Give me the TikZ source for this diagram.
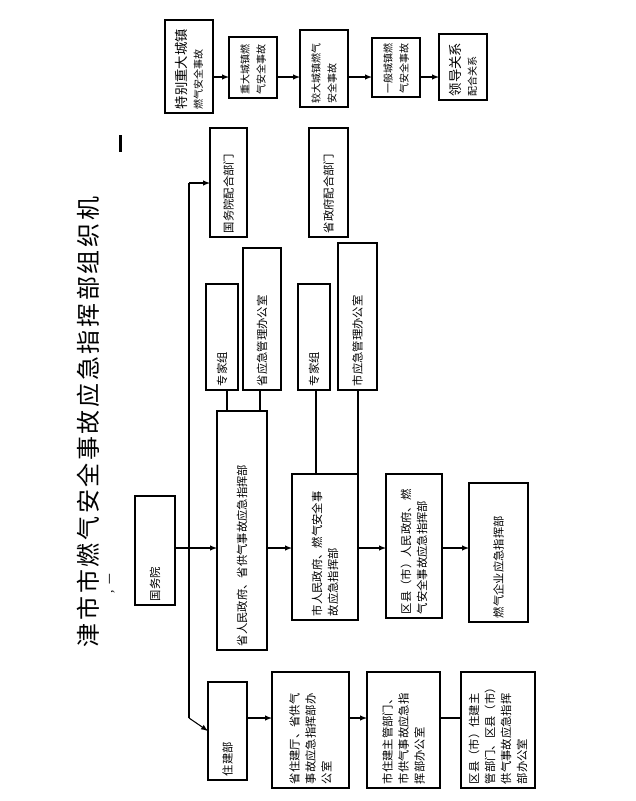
\documentclass[tikz,border=0pt]{standalone}
\usepackage{fontspec}
\setmainfont{Noto Sans CJK SC}
\begin{document}
\begin{tikzpicture}[x=0.75pt,y=-0.75pt,
  bx/.style={draw,line width=0.8pt},
  lab/.style={rotate=90,font=\fontsize{8.5}{12}\selectfont,align=left,inner sep=0pt},
  arr/.style={-latex,line width=0.8pt},
  ln/.style={line width=0.8pt}]
\useasboundingbox (0,0) rectangle (636,801);
\newcommand\rbox[6]{%
  \draw[bx] (#2,#3) rectangle (#4,#5);
  \node[lab,text width={(#5-#3-8)*0.75pt}] (#1) at ({(#2+#4)/2},{(#3+#5)/2}) {#6};
  \coordinate (#1-w) at (#2,{(#3+#5)/2});
  \coordinate (#1-e) at (#4,{(#3+#5)/2});
}
\rbox{a}{165}{20}{213}{113}{{\fontsize{10}{13}\selectfont 特别重大城镇}\\{\fontsize{7.5}{11}\selectfont 燃气安全事故}}
\rbox{b}{229}{37}{277}{98}{\fontsize{7.5}{11}\selectfont 重大城镇燃\\气安全事故}
\rbox{c}{300}{30}{348}{107}{\fontsize{7.5}{11}\selectfont 较大城镇燃气\\安全事故}
\rbox{d}{372}{38}{420}{97}{\fontsize{7.5}{11}\selectfont 一般城镇燃\\气安全事故}
\rbox{e}{439}{34}{487}{100}{{\fontsize{10}{13}\selectfont 领导关系}\\{\fontsize{7.5}{11}\selectfont 配合关系}}
\draw[arr] (213,77) -- (229,77);
\draw[arr] (277,77) -- (300,77);
\draw[arr] (348,77) -- (372,77);
\draw[arr] (420,77) -- (439,77);
\node[rotate=90,font=\fontsize{18}{20}\selectfont\addfontfeature{LetterSpace=11},inner sep=0pt] (title) at (88,422) {津市市燃气安全事故应急指挥部组织机};
\node[rotate=90,font=\fontsize{8}{10}\selectfont,inner sep=0pt] (sub) at (112,584) {，一};
\fill (119,135) rectangle (122,152);
\rbox{gwy}{135}{496}{175}{605}{国务院}
\rbox{gwpb}{210}{128}{247}{237}{国务院配合部门}
\rbox{zj1}{206}{284}{238}{390}{专家组}
\rbox{syj}{243}{248}{281}{390}{省应急管理办公室}
\rbox{sheng}{217}{411}{267}{650}{省人民政府、省供气事故应急指挥部}
\rbox{szpb}{309}{128}{348}{237}{省政府配合部门}
\rbox{zj2}{298}{284}{330}{390}{专家组}
\rbox{shyj}{338}{243}{377}{390}{市应急管理办公室}
\rbox{shi}{292}{474}{358}{620}{市人民政府、燃气安全事\\故应急指挥部}
\rbox{qx}{386}{474}{442}{618}{区县（市）人民政府、燃\\气安全事故应急指挥部}
\rbox{qy}{469}{483}{528}{622}{燃气企业应急指挥部}
\rbox{zjb}{208}{682}{247}{780}{住建部}
\rbox{szjt}{272}{672}{349}{788}{省住建厅、省供气\\事故应急指挥部办\\公室}
\rbox{shzj}{367}{672}{440}{788}{市住建主管部门、\\市供气事故应急指\\挥部办公室}
\rbox{qxzj}{461}{672}{535}{788}{区县（市）住建主\\管部门、区县（市）\\供气事故应急指挥\\部办公室}
\coordinate (vt) at (189,183);
\coordinate (vb) at (189,718);
\draw[ln] (vt) -- (vb);
\draw[arr] (vt) -- (210,183);
\draw[arr] (vb) -- (zjb-w);
\draw[arr] (175,548) -- (217,548);
\draw[arr] (267,548) -- (292,548);
\draw[arr] (358,548) -- (386,548);
\draw[arr] (442,548) -- (469,548);
\draw[ln] (227,390) -- (227,411);
\draw[ln] (260,390) -- (260,411);
\draw[ln] (316,390) -- (316,474);
\draw[ln] (358,390) -- (358,474);
\draw[arr] (247,718) -- (272,718);
\draw[arr] (349,718) -- (367,718);
\draw[ln] (440,718) -- (461,718);
\end{tikzpicture}
\end{document}
